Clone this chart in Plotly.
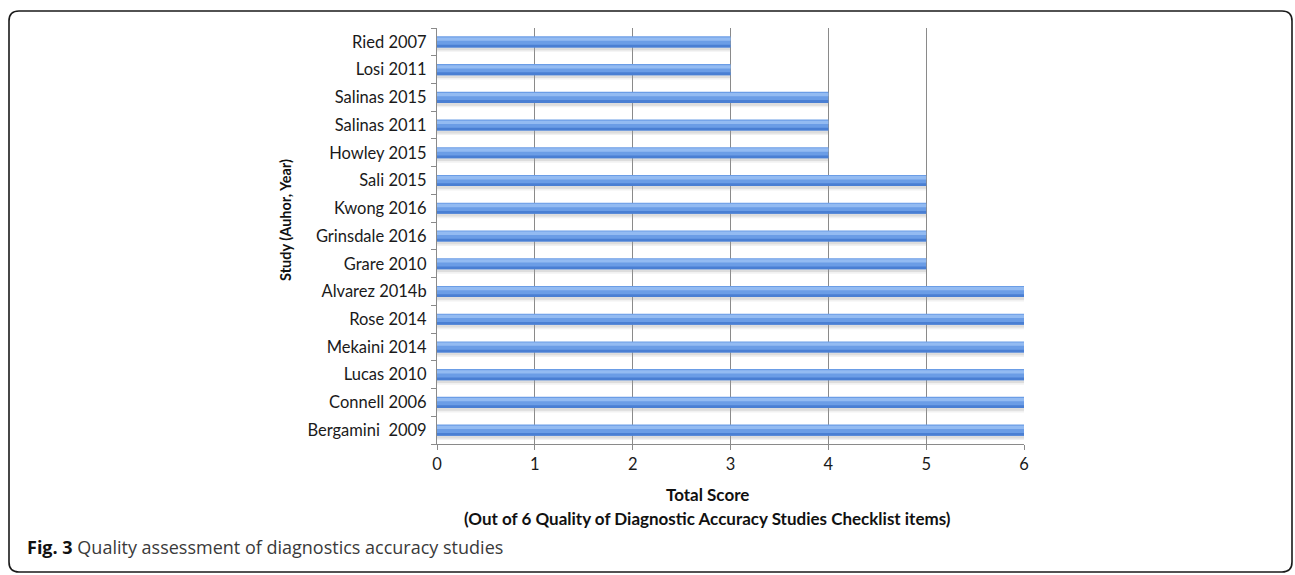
import plotly.graph_objects as go

# Quality scores per study (top to bottom as listed)
studies = [
    "Ried 2007", "Losi 2011", "Salinas 2015", "Salinas 2011", "Howley 2015",
    "Sali 2015", "Kwong 2016", "Grinsdale 2016", "Grare 2010", "Alvarez 2014b",
    "Rose 2014", "Mekaini 2014", "Lucas 2010", "Connell 2006", "Bergamini  2009",
]
scores = [3, 3, 4, 4, 4, 5, 5, 5, 5, 6, 6, 6, 6, 6, 6]
x_ticks = [0, 1, 2, 3, 4, 5, 6]

W, H = 1295, 575
L, R, T, B = 437, 1024, 28, 444  # plot area in pixels


def px(x):
    return (x - L) / (R - L)


def py(y):
    return (B - y) / (B - T)


FONT = "Lato"
fig = go.Figure()

# layered horizontal bars: (offset, width, colour) in category units
layers = [
    (-0.36, 0.16, "rgba(170,170,170,0.16)"),   # faint outer shadow
    (-0.30, 0.12, "rgba(150,150,150,0.22)"),   # shadow just below bar
    (-0.20, 0.40, "#6b9de6"),                  # bar body
    (-0.20, 0.10, "#4a7fd3"),                  # darker lower edge
    (0.04, 0.12, "#93bbf2"),                   # light upper highlight
]
for off, wd, col in layers:
    fig.add_trace(go.Bar(
        y=studies, x=scores, orientation="h", width=wd, offset=off,
        marker=dict(color=col, line=dict(width=0)),
        hoverinfo="skip", showlegend=False,
    ))

fig.update_layout(
    width=W, height=H,
    margin=dict(l=L, r=W - R, t=T, b=H - B),
    paper_bgcolor="white", plot_bgcolor="white",
    barmode="overlay",
    font=dict(family=FONT, size=16.5, color="#1a1a1a"),
    xaxis=dict(
        range=[0, 6], tickvals=x_ticks, showgrid=True, gridcolor="#8a8a8a",
        gridwidth=1, zeroline=False, showline=True, linecolor="#8a8a8a",
        ticks="outside", ticklen=5, tickcolor="#8a8a8a",
        tickfont=dict(size=16.5, family=FONT), fixedrange=True,
    ),
    yaxis=dict(
        categoryorder="array", categoryarray=studies[::-1], type="category",
        showgrid=False, showline=True, linecolor="#8a8a8a", ticks="outside",
        tickson="boundaries", ticklen=5, tickcolor="#8a8a8a",
        tickfont=dict(size=16.5, family=FONT), ticklabelstandoff=6,
        range=[-0.5, 14.5],
    ),
)

fig.add_annotation(
    x=px(285), y=py(220), xref="paper", yref="paper",
    xanchor="center", yanchor="middle",
    text="<b>Study (Auhor, Year)</b>", textangle=-90, showarrow=False,
    font=dict(size=14.5, family=FONT, color="#111"),
)
fig.add_annotation(
    x=px(707), y=py(495), xref="paper", yref="paper",
    xanchor="center", yanchor="middle",
    text="<b>Total Score</b>", showarrow=False,
    font=dict(size=17, family=FONT, color="#111"),
)
fig.add_annotation(
    x=px(707), y=py(518), xref="paper", yref="paper",
    xanchor="center", yanchor="middle",
    text="<b>(Out of 6 Quality of Diagnostic Accuracy Studies Checklist items)</b>",
    showarrow=False, font=dict(size=17, family=FONT, color="#111"),
)
fig.add_annotation(
    x=px(25), y=py(547), xref="paper", yref="paper",
    xanchor="left", yanchor="middle",
    text="<b>Fig. 3</b> <span style='color:#3a3a3a'>Quality assessment of diagnostics accuracy studies</span>",
    showarrow=False, font=dict(size=18, family="Open Sans", color="#111"),
)

# rounded frame around the figure
x0, x1, y0, y1 = px(9), px(1292), py(11), py(572)
rx = 10 / (R - L)
ry = 10 / (B - T)
path = (
    f"M {x0 + rx},{y0} L {x1 - rx},{y0} Q {x1},{y0} {x1},{y0 - ry} "
    f"L {x1},{y1 + ry} Q {x1},{y1} {x1 - rx},{y1} "
    f"L {x0 + rx},{y1} Q {x0},{y1} {x0},{y1 + ry} "
    f"L {x0},{y0 - ry} Q {x0},{y0} {x0 + rx},{y0} Z"
)
fig.add_shape(type="path", path=path, xref="paper", yref="paper",
              line=dict(color="#1a1a1a", width=1.6))

fig.write_html("out.html")
